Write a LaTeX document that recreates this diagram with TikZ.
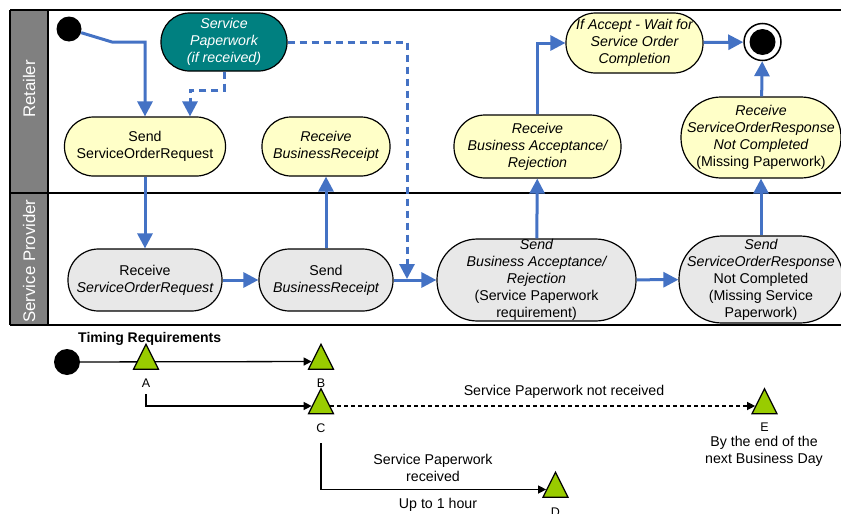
\documentclass[tikz,border=0pt]{standalone}
\usepackage{fontspec}
\setmainfont{Liberation Sans}
\usetikzlibrary{arrows.meta,shapes.geometric}
\pgfdeclarelayer{background}
\pgfsetlayers{background,main}
\definecolor{flowblue}{RGB}{68,114,196}
\definecolor{actyellow}{RGB}{255,255,200}
\definecolor{actgray}{RGB}{232,232,232}
\definecolor{laneGray}{RGB}{128,128,128}
\definecolor{teal2}{RGB}{0,128,128}
\definecolor{tgreen}{RGB}{153,204,0}
\tikzset{
  txt/.style={font=\fontsize{14.2}{17}\selectfont},
  act/.style={draw=black, line width=1.2pt, align=center, inner sep=0pt, txt},
  ret/.style={act, fill=actyellow},
  pro/.style={act, fill=actgray},
  flow/.style={draw=flowblue, line width=3pt, -{Triangle[length=15pt,width=15pt]}},
  dflow/.style={flow, dash pattern=on 7pt off 5pt},
  lanehead/.style={text=white, rotate=90, font=\fontsize{16.8}{20}\selectfont},
  laneline/.style={draw=black, line width=1.6pt},
  tri/.style={isosceles triangle, isosceles triangle stretches, shape border rotate=90,
    minimum width=25pt, minimum height=25pt, inner sep=0pt, draw=black, line width=1.2pt, fill=tgreen},
  tline/.style={draw=black, line width=1.3pt, -{Triangle[length=8pt,width=8pt]}},
  tlabel/.style={font=\fontsize{12.5}{15}\selectfont, inner sep=0pt},
}
\begin{document}
\begin{tikzpicture}[x=1pt,y=-1pt]
\useasboundingbox (0,0) rectangle (841,514);
% lanes
\fill[laneGray] (10,10) rectangle (48,325);
\draw[laneline] (10,10) -- (850,10);
\draw[laneline] (10,193) -- (850,193);
\draw[laneline] (10,325) -- (850,325);
\draw[laneline] (10,10) -- (10,325);
\draw[laneline] (48,10) -- (48,325);
\node[lanehead] (hret) at (29,89) {Retailer};
\node[lanehead] (hpro) at (29,261) {Service Provider};

% retailer nodes
\node[circle, fill=black, minimum size=25pt, inner sep=0pt] (start) at (69,29) {};
\node[act, fill=teal2, text=white, minimum width=126pt, minimum height=58pt, rounded corners=28.5pt] (sp) at (224,42) {\itshape Service\\\itshape Paperwork\\\itshape (if received)};
\node[ret, minimum width=161pt, minimum height=59pt, rounded corners=29pt] (ssor) at (145,146.5) {Send\\ServiceOrderRequest};
\node[ret, minimum width=128pt, minimum height=59pt, rounded corners=29pt] (rbr) at (326,146.5) {\itshape Receive\\\itshape BusinessReceipt};
\node[ret, minimum width=167pt, minimum height=63pt, rounded corners=31pt] (rbar) at (537.5,146.5) {\itshape Receive\\\itshape Business Acceptance/\\\itshape Rejection};
\node[ret, minimum width=137pt, minimum height=60pt, rounded corners=29.5pt] (wait) at (634.5,43) {\itshape If Accept - Wait for\\\itshape Service Order\\\itshape Completion};
\node[circle, draw=black, line width=1.5pt, fill=white, minimum size=37pt, inner sep=0pt] (fin) at (762.5,42) {};
\node[circle, fill=black, minimum size=26pt, inner sep=0pt] (finin) at (fin) {};
\node[ret, minimum width=160pt, minimum height=81pt, rounded corners=40pt] (rsornc) at (761,137.5) {\itshape Receive\\\itshape ServiceOrderResponse\\\itshape Not Completed\\(Missing Paperwork)};

% provider nodes
\node[pro, minimum width=154pt, minimum height=62pt, rounded corners=30.5pt] (rsor) at (145,280) {Receive\\\itshape ServiceOrderRequest};
\node[pro, minimum width=134pt, minimum height=62pt, rounded corners=30.5pt] (sbr) at (326,280) {Send\\\itshape BusinessReceipt};
\node[pro, minimum width=199pt, minimum height=82pt, rounded corners=40.5pt] (sbar) at (536.5,280) {\itshape Send\\\itshape Business Acceptance/\\\itshape Rejection\\(Service Paperwork\\requirement)};
\node[pro, minimum width=164pt, minimum height=87pt, rounded corners=43pt] (ssornc) at (761,279.5) {\itshape Send\\\itshape ServiceOrderResponse\\Not Completed\\(Missing Service\\Paperwork)};

% connectors
\coordinate (c1) at (112,42);
\coordinate (c2) at (407,42);
\coordinate (c3) at (407,279);
\coordinate (c4) at (224,90);
\draw[flow] (start) -- (c1) -| (ssor);
\draw[dflow] (sp.south) -- (c4) -| ([xshift=45pt]ssor.north);
\draw[dflow] (sp.east) -- (c2) -- (c3);
\draw[flow] (ssor) -- (rsor);
\draw[flow] (rsor) -- (sbr);
\draw[flow] (sbr) -- (rbr);
\draw[flow] (sbr) -- (sbar);
\draw[flow] (sbar) -- (rbar);
\draw[flow] (rbar) |- (wait);
\draw[flow] (wait) -- (fin);
\draw[flow] (ssornc) -- (rsornc);
\draw[flow] (rsornc) -- (fin);
\draw[flow] (sbar) -- (ssornc);

% timing
\node[font=\bfseries\fontsize{14}{17}\selectfont, anchor=west, inner sep=0pt] (treq) at (78,339) {Timing Requirements};
\node[circle, fill=black, minimum size=26pt, inner sep=0pt] (tdot) at (67,362) {};
\node[tri] (A) at (146,361.5) {};
\node[tri] (B) at (321,361.5) {};
\node[tri] (C) at (321,406) {};
\node[tri] (E) at (764.5,406) {};
\node[tri] (D) at (555.5,489.5) {};
\node[tlabel] (la) at (146,383) {A};
\node[tlabel] (lb) at (321,383) {B};
\node[tlabel] (lc) at (321,428) {C};
\node[tlabel] (le) at (764.5,427) {E};
\node[tlabel] (ld) at (555.5,512) {D};
\node[txt, inner sep=0pt] (tnr) at (564,392) {Service Paperwork not received};
\node[txt, align=center, inner sep=0pt] (trc) at (433,467.5) {Service Paperwork\\received};
\node[txt, inner sep=0pt] (tup) at (438,505) {Up to 1 hour};
\node[txt, align=center, inner sep=0pt] (tby) at (764,451) {By the end of the\\next Business Day};
\coordinate (a1) at (146,394);
\coordinate (c5) at (321,443);
\begin{pgfonlayer}{background}
\draw[tline] (tdot) -- (B);
\draw[tline] (a1) |- (C);
\draw[tline, dash pattern=on 4pt off 3pt] (C) -- (E);
\draw[tline] (c5) |- (D);
\end{pgfonlayer}
\end{tikzpicture}
\end{document}
